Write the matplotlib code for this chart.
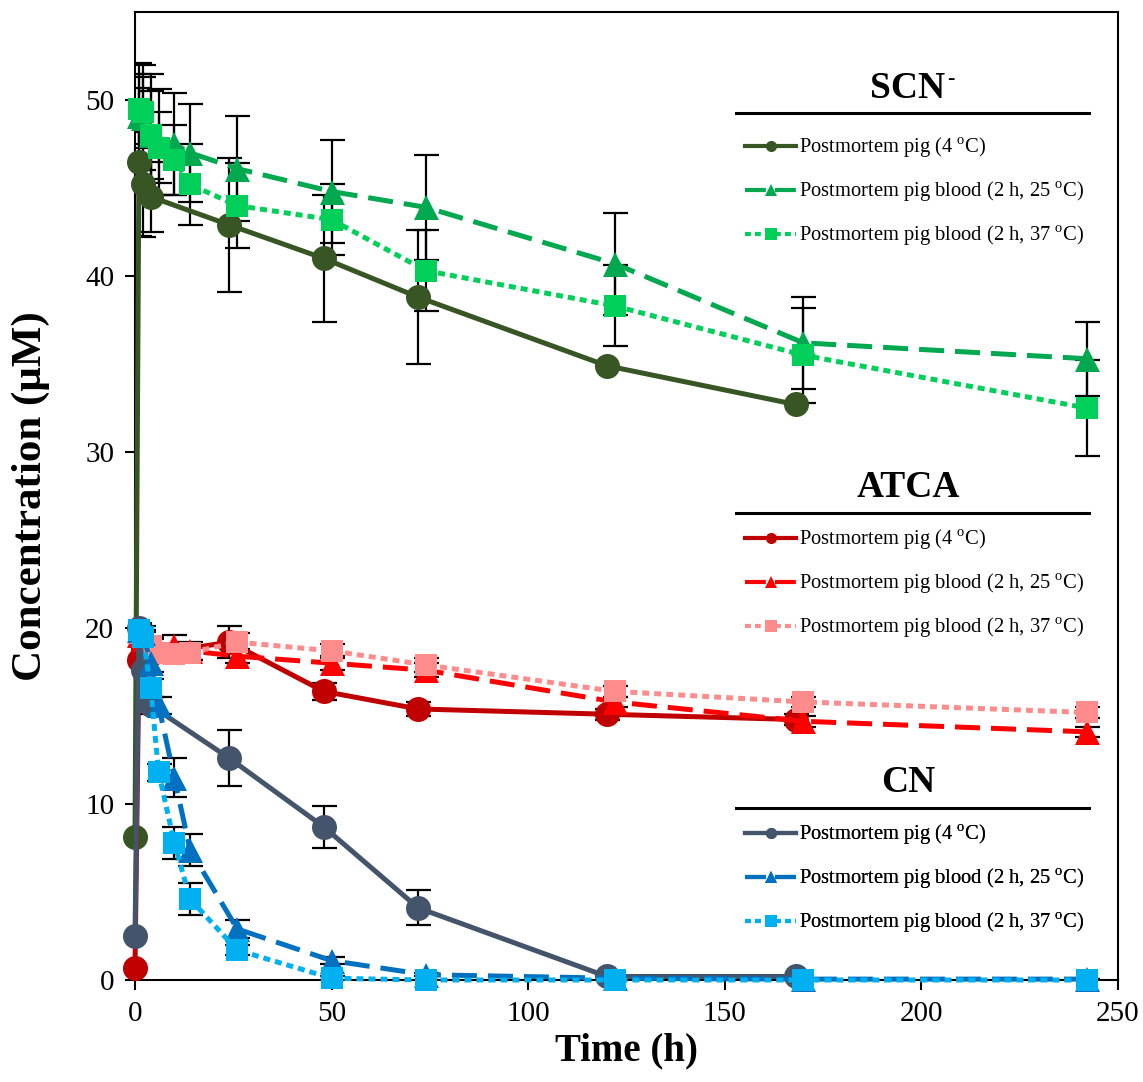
import matplotlib
matplotlib.use('Agg')
import matplotlib.pyplot as plt
from matplotlib.lines import Line2D
import numpy as np

plt.rcParams['font.family'] = ['Liberation Serif', 'DejaVu Serif']
plt.rcParams['mathtext.fontset'] = 'custom'
plt.rcParams['mathtext.rm'] = 'Liberation Serif'

# sampling times (h)
t_pig = [0, 1, 2, 4, 24, 48, 72, 120, 168]
t_blood = [1, 2, 4, 6, 10, 14, 26, 50, 74, 122, 170, 242]

# SCN-
scn_4 = [8.1, 46.5, 45.2, 44.5, 42.9, 41.0, 38.8, 34.9, 32.7]
scn_4_err = [0, 4.2, 3.0, 2.0, 3.8, 3.6, 3.8, 0, 0]
scn_25 = [49.1, 49.0, 48.0, 47.6, 47.5, 47.0, 46.1, 44.8, 43.9, 40.7, 36.2, 35.3]
scn_25_err = [3.0, 3.0, 3.5, 3.0, 2.9, 2.8, 3.0, 2.9, 3.0, 2.9, 2.6, 2.1]
scn_37 = [49.5, 49.3, 48.0, 47.3, 46.6, 45.2, 44.0, 43.2, 40.3, 38.3, 35.5, 32.5]
scn_37_err = [2.0, 2.0, 2.5, 2.0, 2.0, 2.3, 2.4, 2.0, 2.3, 2.3, 2.7, 2.7]

# ATCA
atca_4 = [0.7, 18.2, 18.8, 18.5, 19.2, 16.4, 15.4, 15.1, 14.8]
atca_4_err = [0, 0.5, 0.5, 0.5, 0.9, 0.5, 0.4, 0.3, 0.3]
atca_25 = [19.6, 19.4, 19.0, 18.7, 19.0, 18.7, 18.4, 18.0, 17.6, 15.8, 14.7, 14.1]
atca_25_err = [0.4, 0.4, 0.5, 0.4, 0.6, 0.5, 0.4, 0.4, 0.4, 0.3, 0.3, 0.3]
atca_37 = [19.7, 19.5, 19.0, 18.6, 18.5, 18.6, 19.2, 18.7, 17.9, 16.4, 15.8, 15.2]
atca_37_err = [0.4, 0.4, 0.4, 0.4, 0.4, 0.4, 0.5, 0.4, 0.4, 0.3, 0.3, 0.3]

# CN
cn_4 = [2.5, 20.0, 17.6, 15.6, 12.6, 8.7, 4.1, 0.2, 0.2]
cn_4_err = [0, 0.3, 0.5, 0.5, 1.6, 1.2, 1.0, 0, 0]
cn_25 = [19.9, 19.7, 18.0, 15.6, 11.5, 7.4, 2.9, 1.1, 0.3, 0.1, 0.05, 0.05]
cn_25_err = [0.3, 0.4, 0.5, 0.5, 1.1, 0.9, 0.5, 0.2, 0.1, 0, 0, 0]
cn_37 = [19.9, 19.5, 16.6, 11.8, 7.8, 4.6, 1.7, 0.1, 0.0, 0.0, 0.0, 0.0]
cn_37_err = [0.3, 0.4, 0.5, 0.5, 0.9, 0.9, 0.3, 0.1, 0, 0, 0, 0]

lab_4 = 'Postmortem pig (4 $^{\\mathrm{o}}$C)'
lab_25 = 'Postmortem pig blood (2 h, 25 $^{\\mathrm{o}}$C)'
lab_37 = 'Postmortem pig blood (2 h, 37 $^{\\mathrm{o}}$C)'

dash = (0, (5, 2.2))
dot = (0, (1.4, 1.0))

groups = [
    ('SCN', [
        (t_pig, scn_4, scn_4_err, '#375623', 'o', '-'),
        (t_blood, scn_25, scn_25_err, '#00A84F', '^', dash),
        (t_blood, scn_37, scn_37_err, '#00D05A', 's', dot)]),
    ('ATCA', [
        (t_pig, atca_4, atca_4_err, '#C00000', 'o', '-'),
        (t_blood, atca_25, atca_25_err, '#FF0000', '^', dash),
        (t_blood, atca_37, atca_37_err, '#FF8C8C', 's', dot)]),
    ('CN', [
        (t_pig, cn_4, cn_4_err, '#44546A', 'o', '-'),
        (t_blood, cn_25, cn_25_err, '#0070C0', '^', dash),
        (t_blood, cn_37, cn_37_err, '#00B0F0', 's', dot)]),
]

W, H = 1143, 1082
fig = plt.figure(figsize=(W / 100, H / 100), dpi=100)
ax = fig.add_axes([135 / W, 1 - 980 / H, (1118 - 135) / W, (980 - 12) / H])

sizes = {'o': 18, '^': 18, 's': 16}
for title, series in groups:
    for x, y, e, c, m, ls in series:
        ax.errorbar(x, y, yerr=e, fmt='none', ecolor='black', elinewidth=1.6,
                    capsize=9, capthick=1.6, zorder=2)
for title, series in groups:
    for x, y, e, c, m, ls in series:
        ax.plot(x, y, color=c, linestyle=ls, linewidth=3.6, marker=m,
                markersize=sizes[m], markeredgewidth=0, zorder=3, clip_on=False)

ax.set_xlim(0, 250)
ax.set_ylim(0, 55)
ax.set_xticks([0, 50, 100, 150, 200, 250])
ax.set_yticks([0, 10, 20, 30, 40, 50])
ax.tick_params(direction='out', length=7, width=1.5, labelsize=21, pad=8)
for s in ax.spines.values():
    s.set_linewidth(1.5)
ax.set_xlabel('Time (h)', fontsize=28, fontweight='bold', labelpad=4)
ax.set_ylabel('Concentration (μM)', fontsize=31, fontweight='bold')
ax.yaxis.set_label_coords(-0.086, 0.5)

# grouped legends with bold headers and rules
heads = [(88, 113, 136), (488, 513, 528), (782, 808, 823)]
for (title, series), (ty, ly, ey) in zip(groups, heads):
    fig.text(908 / W, 1 - ty / H, title, ha='center', va='center',
             fontsize=27, fontweight='bold')
    fig.add_artist(Line2D([736 / W, 1089 / W], [1 - ly / H, 1 - ly / H],
                          color='black', linewidth=2.2))
    handles = [Line2D([], [], color=c, linestyle=ls, linewidth=3, marker=m,
                      markersize=8, markeredgewidth=0)
               for x, y, e, c, m, ls in series]
    leg = ax.legend(handles, [lab_4, lab_25, lab_37], loc='upper left',
                    bbox_to_anchor=(745 / W, 1 - ey / H),
                    bbox_transform=fig.transFigure, frameon=False,
                    fontsize=14.8, handlelength=2.5, handletextpad=0.15,
                    labelspacing=0.95, borderpad=0, borderaxespad=0)
    ax.add_artist(leg)
# superscript charge on SCN
fig.text(951 / W, 1 - 80 / H, '-', ha='center', va='center', fontsize=16)

fig.savefig('out.png', dpi=100)
